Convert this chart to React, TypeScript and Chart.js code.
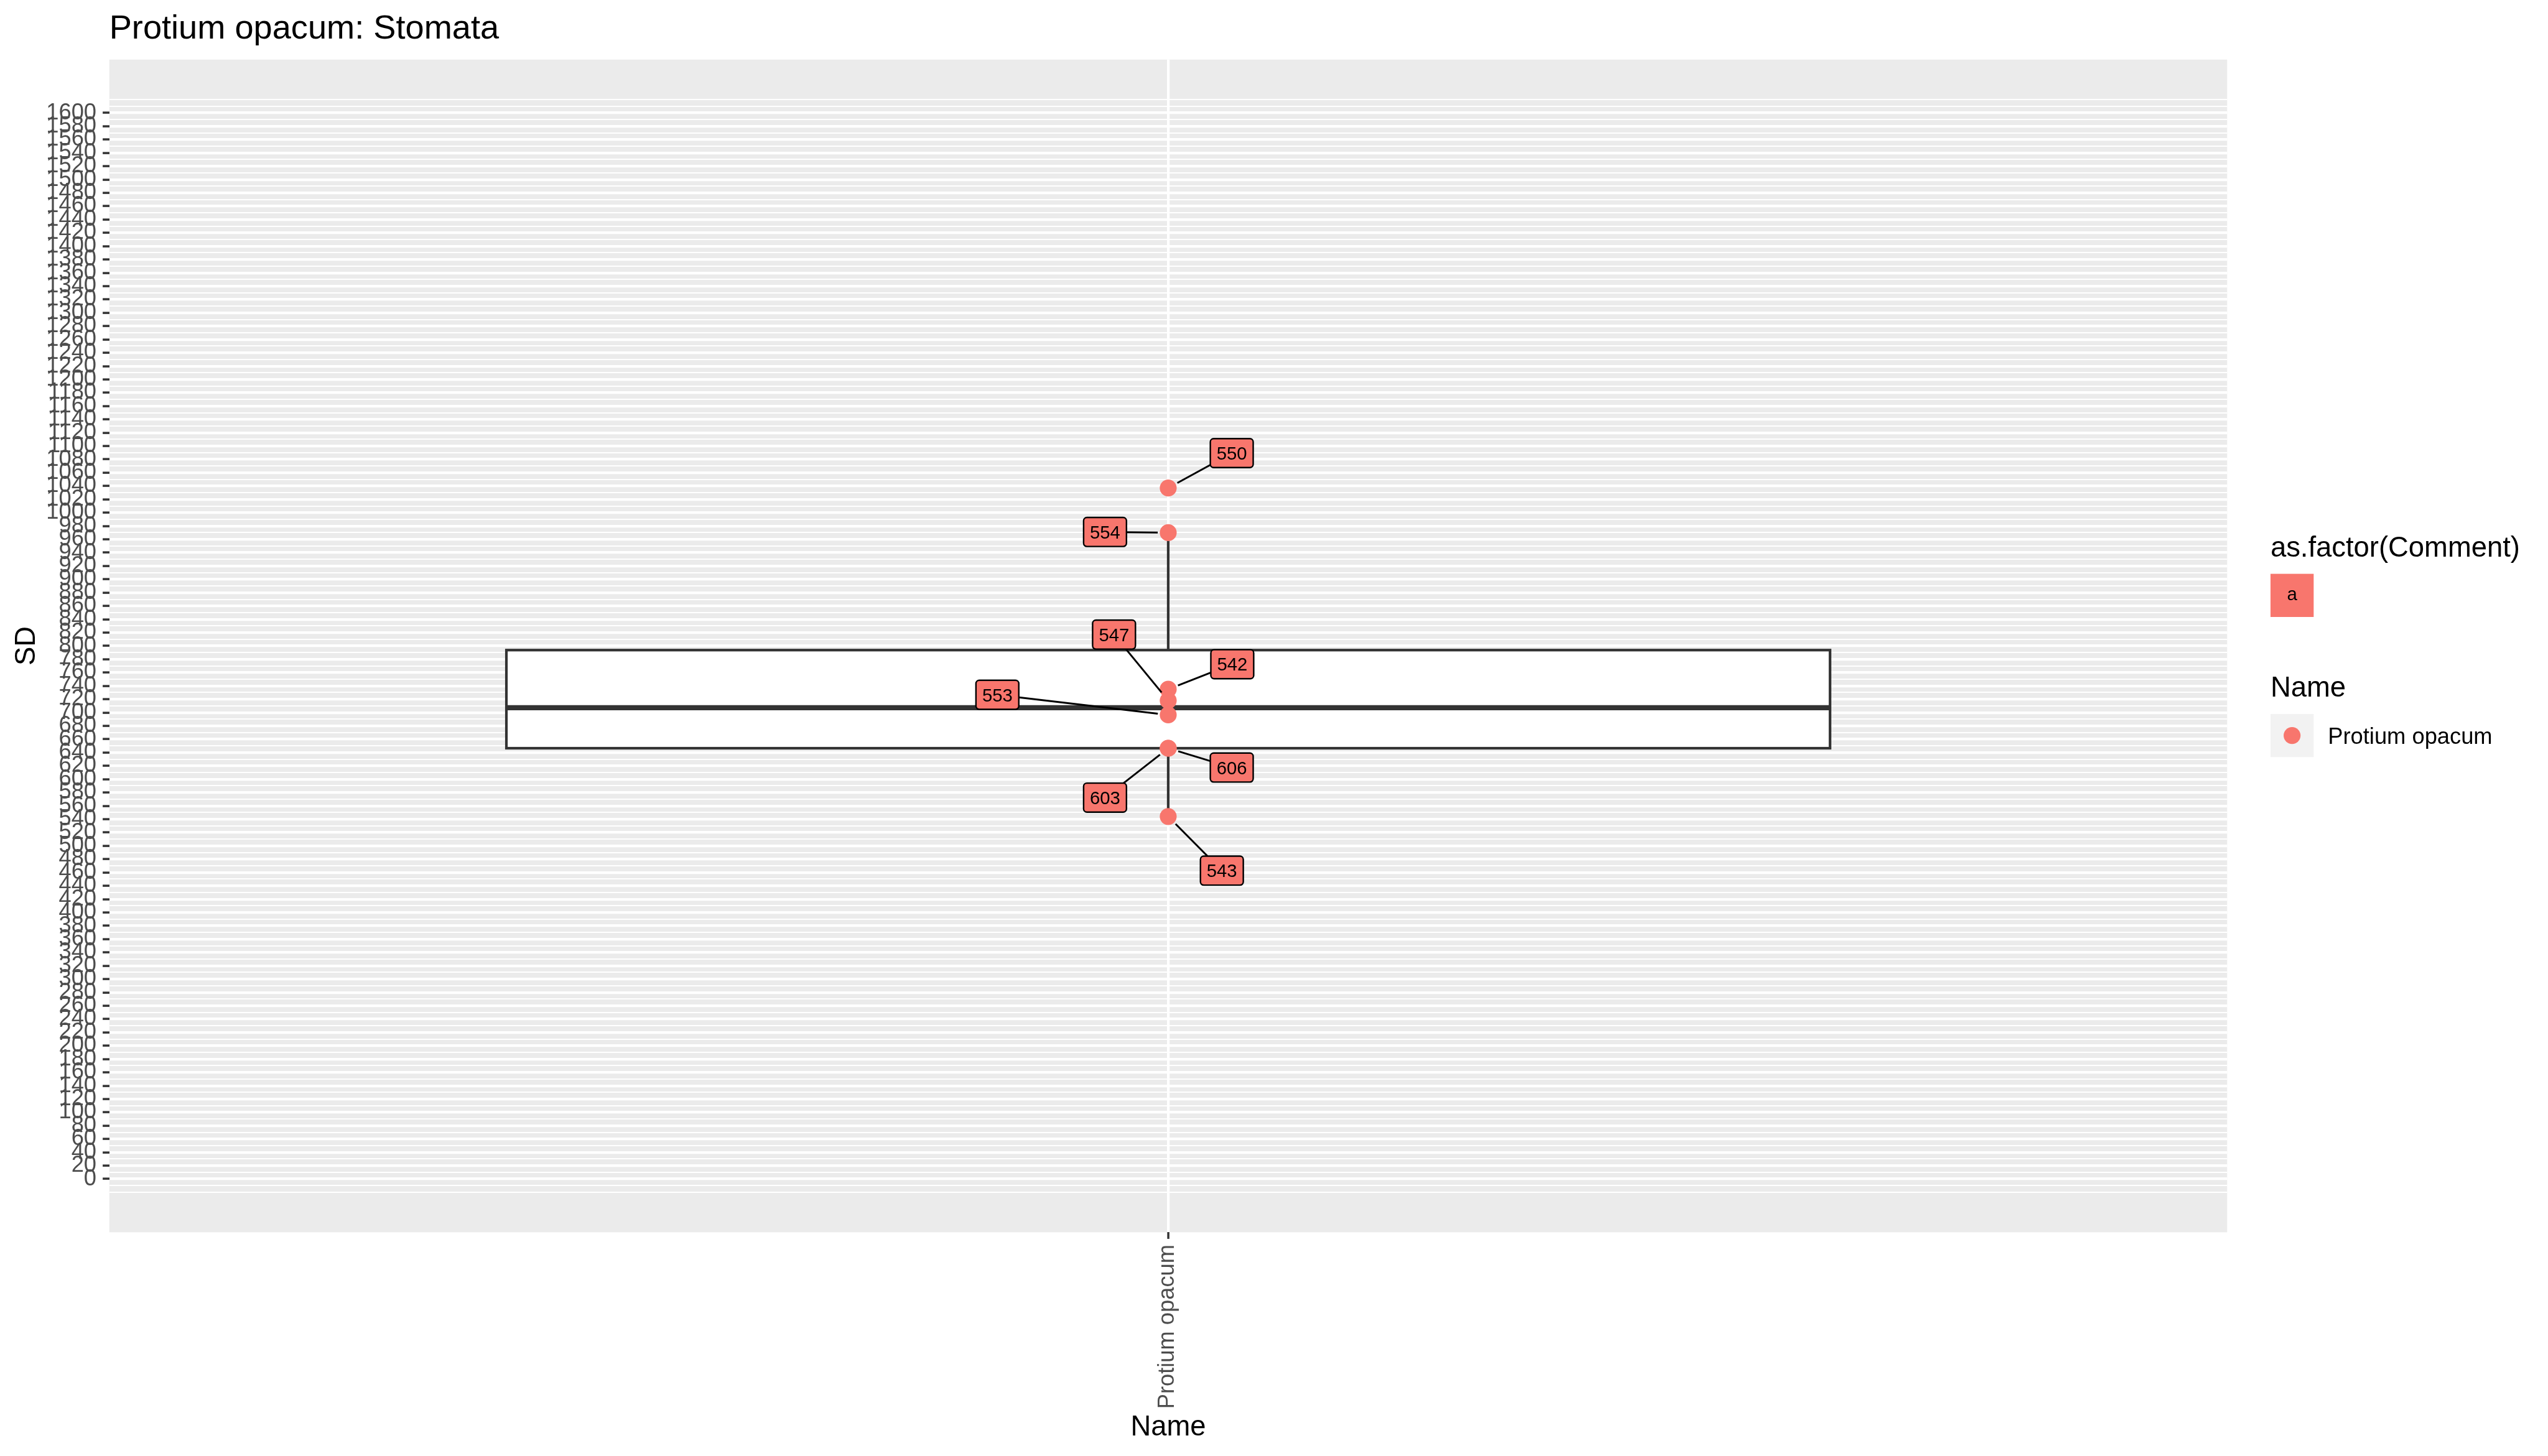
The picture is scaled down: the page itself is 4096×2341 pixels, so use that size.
import React, { useEffect, useRef } from 'react';
import { Chart, registerables } from 'chart.js';

Chart.register(...registerables);

const W = 4096;
const H = 2341;
const FONT = "'Liberation Sans', Arial, Helvetica, sans-serif";

// ---- data ----
const chartTitle = 'Protium opacum: Stomata';
const categories = ['Protium opacum'];
const sampleIds = ['550', '554', '542', '547', '553', '606', '603', '543'];
const sdValues = [1037, 970, 735, 718, 696.5, 646.5, 646.5, 544];
// repelled label anchors (data coordinates), as placed in the reference
const labelX = [1.036, 0.9642, 1.0363, 0.9693, 0.9032, 1.036, 0.9642, 1.0304];
const labelY = [1089.4, 971.0, 772.6, 817.0, 726.7, 617.5, 572.4, 462.8];
const yTickValues = Array.from({ length: 81 }, (_, i) => i * 20); // 0..1600 breaks
const yLimits = [-80, 1680];
const xLimits = [0.4, 1.6];
const legendCommentLevels = ['a'];

// ---- layout (scaled 0.991) ----
const AREA = { left: 175.7, right: 3580.2, top: 95.8, bottom: 1981.3 };
const SALMON = '#F8766D';
const DARK = '#333333';

function quantile(sorted: number[], p: number) {
  const h = (sorted.length - 1) * p;
  const lo = Math.floor(h);
  const hi = Math.min(lo + 1, sorted.length - 1);
  return sorted[lo] + (h - lo) * (sorted[hi] - sorted[lo]);
}

function boxStats(vals: number[]) {
  const s = [...vals].sort((a, b) => a - b);
  const q1 = quantile(s, 0.25);
  const med = quantile(s, 0.5);
  const q3 = quantile(s, 0.75);
  const iqr = q3 - q1;
  const hiW = Math.max(...s.filter((v) => v <= q3 + 1.5 * iqr));
  const loW = Math.min(...s.filter((v) => v >= q1 - 1.5 * iqr));
  return { q1, med, q3, hiW, loW };
}

function roundRect(ctx: CanvasRenderingContext2D, x: number, y: number, w: number, h: number, r: number) {
  ctx.beginPath();
  ctx.moveTo(x + r, y);
  ctx.arcTo(x + w, y, x + w, y + h, r);
  ctx.arcTo(x + w, y + h, x, y + h, r);
  ctx.arcTo(x, y + h, x, y, r);
  ctx.arcTo(x, y, x + w, y, r);
  ctx.closePath();
}

const isMajor = (v: number) => {
  const r = Math.round(v);
  return yTickValues.includes(r) && Math.abs(v - r) < 1e-6;
};
const inGrid = (v: number) => v >= -20 - 1e-6 && v <= 1620 + 1e-6;

const stats = boxStats(sdValues);

const ggPlugin = {
  id: 'ggPlugin',
  beforeDraw(chart: any) {
    const ctx = chart.ctx as CanvasRenderingContext2D;
    const a = chart.chartArea;
    ctx.save();
    ctx.fillStyle = '#FFFFFF';
    ctx.fillRect(0, 0, chart.width, chart.height);
    ctx.fillStyle = '#EBEBEB';
    ctx.fillRect(a.left, a.top, a.right - a.left, a.bottom - a.top);
    ctx.restore();
  },
  beforeDatasetsDraw(chart: any) {
    const ctx = chart.ctx as CanvasRenderingContext2D;
    const xs = chart.scales.x;
    const ys = chart.scales.y;
    const cx = xs.getPixelForValue(1);
    const xl = xs.getPixelForValue(1 - 0.375);
    const xr = xs.getPixelForValue(1 + 0.375);
    const yq1 = ys.getPixelForValue(stats.q1);
    const yq3 = ys.getPixelForValue(stats.q3);
    const ym = ys.getPixelForValue(stats.med);
    const yhi = ys.getPixelForValue(stats.hiW);
    const ylo = ys.getPixelForValue(stats.loW);
    ctx.save();
    ctx.strokeStyle = DARK;
    ctx.lineWidth = 4.2;
    ctx.lineCap = 'butt';
    // whiskers
    ctx.beginPath();
    ctx.moveTo(cx, yq3);
    ctx.lineTo(cx, yhi);
    ctx.moveTo(cx, yq1);
    ctx.lineTo(cx, ylo);
    ctx.stroke();
    // box
    ctx.fillStyle = '#FFFFFF';
    ctx.fillRect(xl, yq3, xr - xl, yq1 - yq3);
    ctx.strokeRect(xl, yq3, xr - xl, yq1 - yq3);
    // median
    ctx.lineWidth = 8.4;
    ctx.beginPath();
    ctx.moveTo(xl, ym);
    ctx.lineTo(xr, ym);
    ctx.stroke();
    ctx.restore();
  },
  afterDatasetsDraw(chart: any) {
    const ctx = chart.ctx as CanvasRenderingContext2D;
    const xs = chart.scales.x;
    const ys = chart.scales.y;
    const bw = 68.9;
    const bh = 46.6;
    const gap = 16.8;
    ctx.save();
    for (let i = 0; i < sampleIds.length; i++) {
      const px = xs.getPixelForValue(1);
      const py = ys.getPixelForValue(sdValues[i]);
      const lx = xs.getPixelForValue(labelX[i]);
      const ly = ys.getPixelForValue(labelY[i]);
      const dx = lx - px;
      const dy = ly - py;
      const len = Math.hypot(dx, dy);
      const t = Math.min(Math.abs(dx) > 1e-9 ? bw / 2 / Math.abs(dx) : Infinity, Math.abs(dy) > 1e-9 ? bh / 2 / Math.abs(dy) : Infinity);
      const ex = lx - dx * t;
      const ey = ly - dy * t;
      const sx = px + (dx / len) * gap;
      const sy = py + (dy / len) * gap;
      ctx.strokeStyle = '#000000';
      ctx.lineWidth = 3.0;
      ctx.beginPath();
      ctx.moveTo(sx, sy);
      ctx.lineTo(ex, ey);
      ctx.stroke();
      roundRect(ctx, lx - bw / 2, ly - bh / 2, bw, bh, 5.3);
      ctx.fillStyle = SALMON;
      ctx.fill();
      ctx.lineWidth = 2.4;
      ctx.strokeStyle = '#000000';
      ctx.stroke();
      ctx.fillStyle = '#000000';
      ctx.font = `29.3px ${FONT}`;
      ctx.textAlign = 'center';
      ctx.textBaseline = 'alphabetic';
      ctx.fillText(sampleIds[i], lx, ly + 0.358 * 29.3);
    }
    ctx.restore();
  },
  afterDraw(chart: any) {
    const ctx = chart.ctx as CanvasRenderingContext2D;
    const xs = chart.scales.x;
    const a = chart.chartArea;
    ctx.save();
    ctx.textBaseline = 'alphabetic';
    // title
    ctx.fillStyle = '#000000';
    ctx.font = `54.2px ${FONT}`;
    ctx.textAlign = 'left';
    ctx.fillText(chartTitle, a.left, 62.1);
    // y axis title
    ctx.font = `45.4px ${FONT}`;
    ctx.save();
    ctx.translate(55.9, (a.top + a.bottom) / 2);
    ctx.rotate(-Math.PI / 2);
    ctx.textAlign = 'center';
    ctx.fillText('SD', 0, 0);
    ctx.restore();
    // x axis title
    const tx = xs.getPixelForValue(1);
    ctx.textAlign = 'center';
    ctx.fillText('Name', tx, 2308);
    // x tick label (rotated)
    ctx.font = `36.3px ${FONT}`;
    ctx.fillStyle = '#4D4D4D';
    ctx.save();
    ctx.translate(tx + 0.253 * 36.3, a.bottom + 10.6 + 9.1);
    ctx.rotate(-Math.PI / 2);
    ctx.textAlign = 'right';
    ctx.fillText(categories[0], 0, 0);
    ctx.restore();
    // legend: as.factor(Comment)
    const lgx = 3649.9;
    const key = 69.4;
    ctx.fillStyle = '#000000';
    ctx.textAlign = 'left';
    ctx.font = `45.4px ${FONT}`;
    ctx.fillText('as.factor(Comment)', lgx, 894.6);
    ctx.fillStyle = SALMON;
    ctx.fillRect(lgx, 922.6, key, key);
    ctx.fillStyle = '#000000';
    ctx.font = `29.3px ${FONT}`;
    ctx.textAlign = 'center';
    ctx.fillText(legendCommentLevels[0], lgx + key / 2, 922.6 + key / 2 + 0.26 * 29.3);
    // legend: Name
    ctx.textAlign = 'left';
    ctx.font = `45.4px ${FONT}`;
    ctx.fillText('Name', lgx, 1119.8);
    ctx.fillStyle = '#F2F2F2';
    ctx.fillRect(lgx, 1147.9, key, key);
    ctx.fillStyle = SALMON;
    ctx.beginPath();
    ctx.arc(lgx + key / 2, 1147.9 + key / 2, 13.6, 0, Math.PI * 2);
    ctx.fill();
    ctx.fillStyle = '#000000';
    ctx.font = `36.3px ${FONT}`;
    ctx.fillText(categories[0], 3742.3, 1195.8);
    ctx.restore();
  },
};

export default function App() {
  const ref = useRef<HTMLCanvasElement>(null);
  useEffect(() => {
    document.body.style.margin = '0';
    document.body.style.overflow = 'hidden';
    const canvas = ref.current!;
    const chart = new Chart(canvas, {
      type: 'scatter',
      data: {
        datasets: [
          {
            label: categories[0],
            data: sdValues.map((v) => ({ x: 1, y: v })),
            pointRadius: 13.6,
            pointHoverRadius: 13.6,
            backgroundColor: SALMON,
            borderWidth: 0,
            pointBorderWidth: 0,
          },
        ],
      },
      options: {
        animation: false,
        responsive: false,
        devicePixelRatio: 1,
        events: [],
        layout: { padding: { top: AREA.top, right: W - AREA.right, left: 0, bottom: 0 } },
        plugins: {
          legend: { display: false },
          tooltip: { enabled: false },
          title: { display: false },
        },
        scales: {
          x: {
            type: 'linear',
            min: xLimits[0],
            max: xLimits[1],
            afterBuildTicks: (s: any) => {
              s.ticks = [{ value: 1 }];
            },
            afterFit: (s: any) => {
              s.height = H - AREA.bottom;
            },
            ticks: { callback: () => '', autoSkip: false, maxRotation: 0, minRotation: 0, padding: 0 },
            grid: {
              color: '#FFFFFF',
              lineWidth: 4.2,
              tickColor: DARK,
              tickWidth: 3.5,
              tickLength: 10.6,
              drawTicks: true,
            },
            border: { display: false },
          },
          y: {
            type: 'linear',
            min: yLimits[0],
            max: yLimits[1],
            afterFit: (s: any) => {
              s.width = AREA.left;
            },
            ticks: {
              stepSize: 10,
              autoSkip: false,
              padding: 10.1,
              color: '#4D4D4D',
              font: { family: FONT, size: 36.3 },
              callback: (v: any) => (isMajor(Number(v)) ? String(Math.round(Number(v))) : ''),
            },
            grid: {
              color: (c: any) => (c.tick && inGrid(c.tick.value) ? '#FFFFFF' : 'rgba(0,0,0,0)'),
              lineWidth: (c: any) => (c.tick && isMajor(c.tick.value) ? 4.2 : 2.1),
              tickColor: (c: any) => (c.tick && isMajor(c.tick.value) ? DARK : 'rgba(0,0,0,0)'),
              tickWidth: 3.5,
              tickLength: 10.6,
              drawTicks: true,
            },
            border: { display: false },
          },
        },
      },
      plugins: [ggPlugin],
    } as any);
    return () => chart.destroy();
  }, []);
  return (
    <div style={{ width: W, height: H }}>
      <canvas ref={ref} width={W} height={H} style={{ display: 'block', width: W, height: H }} />
    </div>
  );
}
